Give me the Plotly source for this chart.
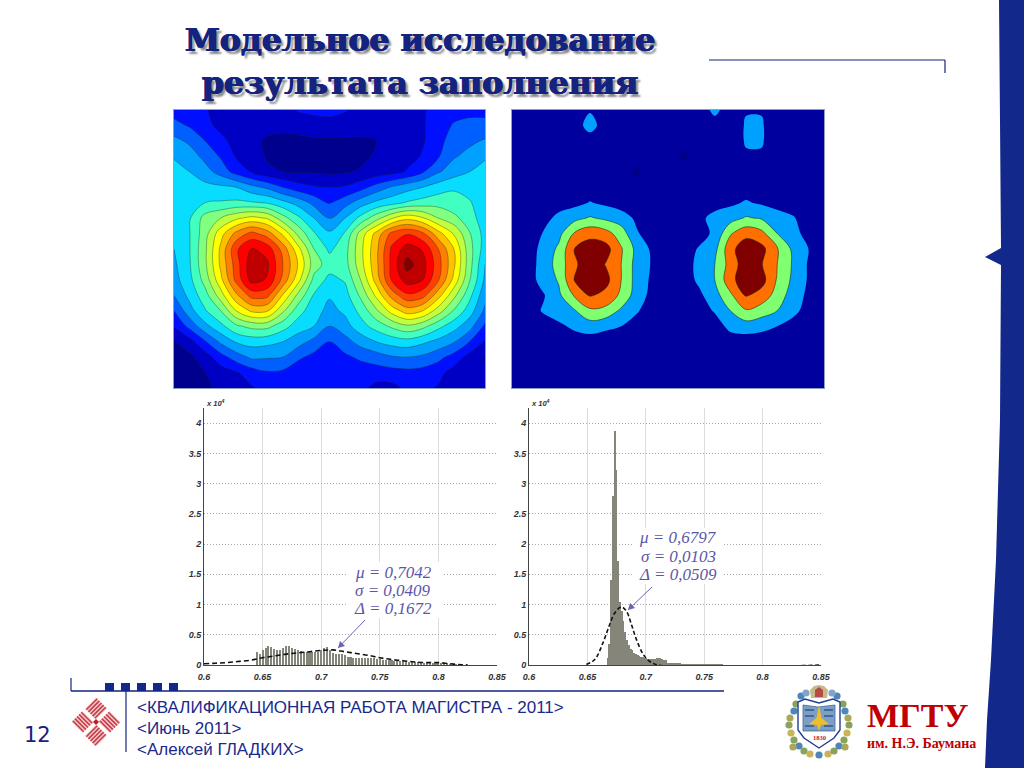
import plotly.graph_objects as go

# ---------- data ----------
left_map = [
 [2.6,2.5,2.1,1.6,1.5,1.5,1.5,1.6,2.1,2.3,2.4,2.1,1.7,1.6,1.6,1.7,1.9,2.4,2.6,2.7,2.7],
 [3.3,2.9,2.3,1.7,1.3,1.2,1.2,1.2,1.3,1.4,1.5,1.4,1.3,1.2,1.2,1.7,1.9,2.5,3.1,3.3,3.3],
 [4.3,3.8,3.0,2.3,1.6,1.2,0.9,0.8,0.8,0.9,0.9,0.9,0.9,1.0,1.2,1.5,1.9,2.6,3.6,3.8,4.1],
 [4.9,4.5,3.7,2.9,1.9,1.5,0.9,0.7,0.7,0.7,0.7,0.7,0.8,1.1,1.4,1.6,2.1,2.9,3.9,4.3,4.9],
 [5.4,5.0,4.4,3.6,2.6,1.9,1.2,1.0,0.9,0.9,0.8,0.9,1.1,1.4,1.6,2.1,2.9,3.9,4.5,5.0,5.3],
 [5.4,5.4,5.3,5.2,5.0,4.3,3.8,3.0,2.4,2.1,2.0,2.1,2.6,3.4,4.1,4.6,5.0,5.5,5.9,5.6,5.5],
 [5.5,5.6,6.0,6.1,6.2,6.1,5.9,5.3,4.6,3.7,2.9,3.6,4.5,5.2,5.6,6.1,6.4,6.6,6.3,6.1,5.4],
 [5.5,5.9,7.4,8.0,8.8,9.3,8.9,7.4,6.2,5.0,3.9,5.0,6.3,7.6,8.9,9.7,9.1,8.0,7.3,6.4,5.5],
 [5.4,5.95,7.6,9.6,11.3,12.3,11.5,9.8,7.7,6.1,5.2,6.1,8.4,10.3,12.3,12.9,12.2,10.4,8.9,7.1,5.6],
 [5.0,5.95,7.8,10.2,12.8,14.1,13.6,11.6,9.3,7.0,5.8,6.6,8.7,10.7,13.2,14.5,13.9,12.0,10.0,7.4,5.5],
 [4.8,5.9,7.8,10.2,12.5,14.7,14.2,12.0,9.9,7.5,6.5,6.6,8.6,10.7,13.3,15.4,14.4,12.4,10.2,7.4,5.0],
 [4.6,5.7,7.4,9.7,12.3,14.4,13.9,11.7,9.3,6.7,5.7,6.1,8.0,10.4,13.1,14.5,14.0,12.1,9.7,7.1,4.8],
 [4.0,5.3,6.6,8.5,10.8,12.4,12.3,9.9,7.7,5.9,5.1,5.6,7.2,9.2,11.4,12.8,12.4,10.4,8.3,6.3,4.3],
 [3.0,4.6,5.9,7.0,9.0,10.2,10.1,8.2,6.4,5.4,4.7,5.2,6.3,7.8,9.4,10.5,10.0,8.5,6.9,5.5,3.8],
 [2.1,3.3,4.7,5.7,6.8,7.3,7.3,6.4,5.5,5.0,4.0,4.6,5.6,6.4,7.2,7.8,7.3,6.3,5.4,4.4,2.8],
 [0.9,1.6,2.9,4.2,5.1,5.4,5.3,5.0,4.4,3.7,3.0,3.6,4.4,5.0,5.4,5.6,5.2,4.7,4.1,3.0,1.9],
 [0.7,0.8,1.5,2.6,3.5,4.2,4.1,4.0,3.2,2.7,2.5,2.8,3.2,3.5,3.9,4.0,3.8,3.3,2.6,1.6,0.9],
 [0.7,0.7,1.0,1.5,1.9,2.5,2.9,2.8,2.3,2.2,2.2,2.2,2.4,2.5,2.6,2.7,2.6,2.3,1.6,1.4,1.2],
 [0.8,0.8,0.9,1.1,1.4,1.9,2.3,2.4,2.3,2.3,2.3,2.3,2.3,1.7,1.7,2.2,2.2,1.9,1.5,1.4,1.5],
]

right_map = [
 [1.5,1.5,1.5,1.5,1.5,1.9,1.5,1.5,1.5,1.5,1.5,1.5,1.5,2.25,1.5,1.95,1.95,1.5,1.5,1.5,1.5],
 [1.5,1.5,1.5,1.5,1.5,2.4,1.5,1.5,1.5,1.5,1.5,1.5,1.5,1.6,1.5,2.08,2.08,1.5,1.5,1.5,1.5],
 [1.5,1.5,1.5,1.5,1.5,1.5,1.5,1.5,1.5,1.5,1.5,1.5,1.5,1.5,1.5,2.08,2.08,1.5,1.5,1.5,1.5],
 [1.5,1.5,1.5,1.5,1.5,1.5,1.5,1.5,1.5,1.5,1.5,0.8,1.5,1.5,1.5,1.9,1.9,1.5,1.5,1.5,1.5],
 [1.5,1.5,1.5,1.5,1.5,1.5,1.5,1.5,0.8,1.5,1.5,1.5,1.5,1.5,1.5,1.5,1.5,1.5,1.5,1.5,1.5],
 [1.5,1.5,1.5,1.5,1.5,1.5,1.5,1.5,1.5,1.5,1.5,1.5,1.5,1.5,1.5,1.5,1.5,1.5,1.5,1.5,1.5],
 [1.5,1.5,1.5,1.5,1.7,2.05,1.8,1.5,1.5,1.5,1.5,1.5,1.5,1.5,1.8,2.1,1.85,1.5,1.5,1.5,1.5],
 [1.5,1.5,1.6,2.3,2.7,3.1,2.8,2.5,1.8,1.5,1.5,1.5,1.7,2.4,2.6,3.1,2.9,2.6,2.1,1.5,1.5],
 [1.5,1.5,2.05,2.7,4.1,4.7,4.4,3.5,2.1,1.5,1.5,1.5,1.6,2.2,3.9,4.7,4.3,3.0,2.3,1.7,1.5],
 [1.5,1.5,2.3,3.2,5.0,5.5,5.4,4.1,2.7,1.8,1.5,1.5,2.1,2.7,4.7,5.6,5.3,4.1,2.8,2.0,1.5],
 [1.5,1.5,2.4,3.4,4.8,5.7,4.95,4.0,2.6,1.9,1.5,1.5,2.3,3.0,4.4,5.6,5.05,4.0,2.9,1.9,1.5],
 [1.5,1.5,2.4,3.1,5.05,5.7,5.35,4.0,2.6,1.8,1.5,1.5,2.2,3.0,4.7,5.6,5.4,3.9,2.8,1.9,1.5],
 [1.5,1.5,1.9,2.8,4.1,5.1,4.7,3.8,2.5,1.7,1.5,1.5,1.8,2.6,3.8,5.1,4.6,3.6,2.5,1.8,1.5],
 [1.5,1.5,2.1,2.5,2.9,3.8,3.7,2.8,2.1,1.5,1.5,1.5,1.5,2.1,3.0,3.9,3.5,3.0,2.3,1.6,1.5],
 [1.5,1.5,1.5,1.8,2.2,2.5,2.2,2.0,1.6,1.5,1.5,1.5,1.5,1.5,2.3,2.5,2.3,2.0,1.6,1.5,1.5],
 [1.5,1.5,1.5,1.5,1.5,1.5,1.5,1.5,1.5,1.5,1.5,1.5,1.5,1.5,1.5,1.5,1.5,1.5,1.5,1.5,1.5],
 [1.5,1.5,1.5,1.5,1.5,1.5,1.5,1.5,1.5,1.5,1.5,1.5,1.5,1.5,1.5,1.5,1.5,1.5,1.5,1.5,1.5],
 [1.5,1.5,1.5,1.5,1.5,1.5,1.5,1.5,1.5,1.5,1.5,1.5,1.5,1.5,1.5,1.5,1.5,1.5,1.5,1.5,1.5],
 [1.5,1.5,1.5,1.5,1.5,1.5,1.5,1.5,1.5,1.5,1.5,1.5,1.5,1.5,1.5,1.5,1.5,1.5,1.5,1.5,1.5],
]

left_band_colors = ["#00008f","#0000c4","#0010ff","#0060ff","#00a0ff","#08dcff","#40ffc0","#80ff80",
                    "#c0ff40","#ffff00","#ffc000","#ff8000","#ff4000","#ff0000","#c00000","#800000"]
right_band_colors = ["#000088","#00009f","#00a0ff","#80ff70","#ff7000","#800000"]

left_hist_start = 0.645
left_hist_step = 0.0025
left_hist = [.21,.19,.25,.28,.32,.30,.27,.24,.24,.28,.32,.32,.28,.26,.25,.23,.22,.21,.21,.21,.21,.21,
             .24,.28,.29,.24,.20,.18,.18,.19,.17,.14,.13,.12,.12,.12,.11,.11,.11,.11,.11,.10,.10,.09,
             .09,.09,.08,.07,.07,.06,.06,.06,.05,.05,.05,.05,.05,.04,.04,.04,.04,.04,.04,.04,.04,.02,
             .01,.01,.01,.01,.005]
left_fit_x = [.60,.61,.62,.63,.64,.65,.66,.67,.68,.69,.70,.71,.72,.73,.74,.75,.76,.77,.78,.79,.80,.81,.82,.825]
left_fit_y = [.02,.03,.04,.06,.08,.12,.15,.18,.20,.22,.24,.25,.22,.19,.16,.12,.09,.07,.05,.04,.04,.02,.005,0]

right_hist_start = 0.6675
right_hist_step = 0.0015
right_hist = [.12,.35,1.4,2.8,3.87,3.23,1.72,1.05,.9,.72,.55,.42,.33,.27,.24,.2,.18,.16,.15,.14,.13,.12,
              .11,.1,.1,.1,.1,.1,.11,.12,.11,.1,.09,.08,.02,.02,.02,.02,.02,.02,.02,.02,.015,.015,.015,
              .015,.015,.015,.015,.015,.015,.015,.015,.015,.015,.015,.015,.015,.015,.015,.015,.015,.015,
              .01,.01,.01]
right_fit_x = [.6491,.6563,.6634,.6691,.6734,.6791,.6834,.6877,.692,.6977,.702,.7106,.85]
right_fit_y = [.01,.09,.37,.67,.86,.96,.89,.67,.42,.18,.08,0,0]

x_ticks = [0.6,0.65,0.7,0.75,0.8,0.85]
x_tick_labels = ["0.6","0.65","0.7","0.75","0.8","0.85"]
y_ticks = [0,0.5,1,1.5,2,2.5,3,3.5,4]
y_tick_labels = ["0","0.5","1","1.5","2","2.5","3","3.5","4"]

left_stats = ["μ = 0,7042","σ = 0,0409","Δ = 0,1672"]
right_stats = ["μ = 0,6797","σ = 0,0103","Δ = 0,0509"]
title_lines = ["Модельное исследование","результата заполнения"]
footer_lines = ["&lt;КВАЛИФИКАЦИОННАЯ РАБОТА МАГИСТРА - 2011&gt;","&lt;Июнь 2011&gt;","&lt;Алексей ГЛАДКИХ&gt;"]

# ---------- helpers ----------
W, H = 1024, 768
NAVY = "#13237f"
def px(x): return x / W
def py(y): return 1 - y / H
def stepped(colors):
    n = len(colors); out = []
    for i, c in enumerate(colors):
        out += [[i / n, c], [(i + 1) / n, c]]
    return out

fig = go.Figure()

# ---------- contour maps ----------
fig.add_trace(go.Contour(z=left_map, xaxis="x", yaxis="y", colorscale=stepped(left_band_colors), zmin=0, zmax=16,
                         autocontour=False, contours=dict(start=1, end=15, size=1, coloring="fill"),
                         line=dict(color="rgba(20,40,30,0.6)", width=0.6, smoothing=1), showscale=False, hoverinfo="skip"))
fig.add_trace(go.Contour(z=right_map, xaxis="x2", yaxis="y2", colorscale=stepped(right_band_colors), zmin=0, zmax=6,
                         autocontour=False, contours=dict(start=1, end=5, size=1, coloring="fill"),
                         line=dict(width=0, smoothing=1), showscale=False, hoverinfo="skip"))
fig.add_trace(go.Contour(z=right_map, xaxis="x2", yaxis="y2", autocontour=False,
                         contours=dict(start=3, end=5, size=1, coloring="none"),
                         line=dict(color="rgba(20,40,20,0.8)", width=0.7, smoothing=1), showscale=False, hoverinfo="skip"))

# ---------- histograms ----------
BAR = "#85857a"
fig.add_trace(go.Bar(x0=left_hist_start, dx=left_hist_step, y=left_hist, xaxis="x3", yaxis="y3",
                     marker=dict(color=BAR, line_width=0), width=left_hist_step*0.7, hoverinfo="skip"))
fig.add_trace(go.Scatter(x=left_fit_x, y=left_fit_y, xaxis="x3", yaxis="y3", mode="lines",
                         line=dict(color="#111", width=1.6, dash="5px,3px", shape="spline"), hoverinfo="skip"))
fig.add_trace(go.Bar(x0=right_hist_start, dx=right_hist_step, y=right_hist, xaxis="x4", yaxis="y4",
                     marker=dict(color=BAR, line_width=0), width=right_hist_step*0.7, hoverinfo="skip"))
fig.add_trace(go.Scatter(x=right_fit_x, y=right_fit_y, xaxis="x4", yaxis="y4", mode="lines",
                         line=dict(color="#111", width=1.6, dash="4px,2.5px", shape="spline"), hoverinfo="skip"))

hidden = dict(showticklabels=False, ticks="", showgrid=False, zeroline=False, mirror=True, showline=True,
              linecolor="#8ea0c0", linewidth=1)
tickfont = dict(family="Liberation Sans", size=9, color="#333", style="italic", weight="bold")
def x_axis(dom, anchor):
    return dict(domain=[px(dom[0]), px(dom[1])], range=[0.6, 0.85], anchor=anchor, tickmode="array", tickvals=x_ticks,
                ticktext=x_tick_labels, showgrid=True, gridcolor="#dcdcdc", gridwidth=1, zeroline=False,
                showline=True, linecolor="#444", linewidth=1, ticks="", tickfont=tickfont, ticklabelstandoff=3)
def y_axis(anchor):
    return dict(domain=[py(665), py(408)], range=[0, 4.25], anchor=anchor, tickmode="array", tickvals=y_ticks,
                ticktext=y_tick_labels, showgrid=True, gridcolor="#a8a8a8", griddash="1px,2px", gridwidth=1, zeroline=False,
                showline=True, linecolor="#444", linewidth=1, ticks="", tickfont=tickfont)

fig.update_layout(
    width=W, height=H, margin=dict(l=0, r=0, t=0, b=0, pad=0, autoexpand=False), paper_bgcolor="white", plot_bgcolor="white",
    showlegend=False, bargap=0,
    xaxis=dict(domain=[px(174), px(485)], range=[0, 20], anchor="y", **hidden),
    yaxis=dict(domain=[py(388), py(110)], range=[18, 0], anchor="x", **hidden),
    xaxis2=dict(domain=[px(512), px(824)], range=[0, 20], anchor="y2", **hidden),
    yaxis2=dict(domain=[py(388), py(110)], range=[18, 0], anchor="x2", **hidden),
    xaxis3=x_axis((204, 497), "y3"), yaxis3=y_axis("x3"),
    xaxis4=x_axis((529, 821), "y4"), yaxis4=y_axis("x4"),
)

# ---------- slide furniture ----------
shapes = []
def path(d, fill=None, line=None, lw=0, layer="above"):
    s = dict(type="path", path=d, xref="paper", yref="paper", layer=layer,
             line=dict(width=lw, color=line or "rgba(0,0,0,0)"))
    if fill: s["fillcolor"] = fill
    shapes.append(s)
def seg(x0, y0, x1, y1, color, w=1):
    shapes.append(dict(type="line", xref="paper", yref="paper", x0=px(x0), y0=py(y0), x1=px(x1), y1=py(y1),
                       line=dict(color=color, width=w), layer="above"))
def rect(x0, y0, x1, y1, fill):
    shapes.append(dict(type="rect", xref="paper", yref="paper", x0=px(x0), y0=py(y0), x1=px(x1), y1=py(y1),
                       fillcolor=fill, line=dict(width=0), layer="above"))
def poly(pts, fill, line=None, lw=0):
    d = "M %.5f,%.5f " % (px(pts[0][0]), py(pts[0][1]))
    d += " ".join("L %.5f,%.5f" % (px(x), py(y)) for x, y in pts[1:]) + " Z"
    path(d, fill, line, lw)
def dot(x, y, r, c):
    shapes.append(dict(type="circle", xref="paper", yref="paper", x0=px(x-r), x1=px(x+r), y0=py(y+r), y1=py(y-r),
                       fillcolor=c, line=dict(width=0), layer="above"))

# right band with notch
poly([(999,0),(1024,0),(1024,768),(985,768),(987,720),(991,660),(996,560),(1000,420),(1001,265),(985,257),
      (1001,248),(1000,120)], "#12288a")
# top rule
seg(709,60,945,60,NAVY,1.2); seg(945,60,945,73,NAVY,1.2)
# bottom rule
seg(71,691,724,691,NAVY,1.4); seg(71,678,71,691,NAVY,1.2); seg(126,691,126,752,NAVY,1.2)
for x in (105,121,137,153,169):
    rect(x,683,x+9,691,"#12288a")
# white patches under the statistics
rect(346,562,442,618,"white"); rect(634,528,724,584,"white")
# callout arrows
ARROW = "#6a62b8"
seg(365,620,338,648,ARROW,1); poly([(338,648),(340,641),(345,646)],ARROW)
seg(652,587,628,610,ARROW,1); poly([(628,610),(630,603),(635,608)],ARROW)
# hatched logo: four rotated squares round a small red centre
LOGO = "#c6404c"
lobes = ((96,708.5,1),(109.5,722,-1),(96,735.5,1),(82.5,722,-1))
for lx, ly, sgn in lobes:
    poly([(lx-11,ly),(lx,ly-11),(lx+11,ly),(lx,ly+11)], "#f6d2d3")
    for t in (-6,-3,0,3,6):
        mx = lx + t*0.7071
        my = ly + sgn*t*0.7071
        seg(mx-5.5, my+sgn*5.5, mx+5.5, my-sgn*5.5, LOGO, 1.7)
poly([(93,722),(96,719),(99,722),(96,725)], "#c01c2c")
# emblem: wreath, shield, crown, star
leaves = [(790,718,"#a9a75a"),(789,725,"#8aa35c"),(791,733,"#c9b45c"),(794,711,"#4f86b8"),(796,704,"#8aa35c"),
          (801,696,"#4f86b8"),(806,693,"#7fa6c8"),(794,740,"#8aa35c"),(799,746,"#4f86b8"),(804,751,"#8aa35c"),
          (810,754,"#c9b45c"),(819,755,"#4f86b8"),(828,754,"#c9b45c"),(834,751,"#8aa35c"),(839,746,"#4f86b8"),
          (844,740,"#8aa35c"),(847,733,"#c9b45c"),(849,725,"#8aa35c"),(848,718,"#a9a75a"),(845,711,"#4f86b8"),
          (843,704,"#8aa35c"),(837,696,"#4f86b8"),(832,693,"#7fa6c8"),(793,747,"#a9a75a"),(845,747,"#a9a75a")]
for x, y, c in leaves:
    dot(x, y, 3.6, c)
poly([(798,702),(805,699),(819,703),(833,699),(840,702),(840,730),(834,738),(819,748),(804,738),(798,730)],
     "white", "#1f3f8f", 1.4)
poly([(803,705),(818,707),(835,705),(835,731),(803,731)], "#7e9fc4", "#2c5c98", 0.7)
for yy in (710,716,726):
    seg(805,yy,814,yy,"#27528c",1.4); seg(824,yy,833,yy,"#27528c",1.4)
poly([(819,705),(821.5,718),(829,724),(821,725),(819,731),(817,725),(809,724),(816.5,718)], "#eebf2a")
poly([(810,690),(814,686),(819,685),(824,686),(828,690),(827,698),(811,698)], "#c9b98a")
poly([(815,690),(819,687),(823,690),(823,697),(815,697)], "#b64a45")
fig.update_layout(shapes=shapes)

# ---------- text ----------
ann = []
def text(x, y, t, size, color, family, anchor="left", **font_kw):
    ann.append(dict(x=px(x), y=py(y), xref="paper", yref="paper", text=t, showarrow=False, xanchor=anchor,
                    yanchor="middle", font=dict(family=family, size=size, color=color, **font_kw)))
TITLE_SHADOW = "0.7px 0 0 #13237f, -0.7px 0 0 #13237f, 3px 3px 2px #8a8a8a"
for y, t in zip((39, 82), title_lines):
    text(420, y, t, 31.5, NAVY, "DejaVu Serif", "center", weight="bold", shadow=TITLE_SHADOW)
for y, t in zip((707, 728, 749), footer_lines):
    text(135, y, t, 17, "#1a2a8a", "Liberation Sans")
text(37, 735, "12", 21, NAVY, "DejaVu Sans", "center")
text(865, 715, "МГТУ", 34, "#c00000", "Liberation Serif", weight="bold")
text(865, 743, "им. Н.Э. Баумана", 14, "#c00000", "Liberation Serif", weight="bold")
text(819, 737, "1830", 6.5, "#c02020", "Liberation Serif", "center", weight="bold")
for x in (204, 529):
    text(x, 403, "x 10<sup>4</sup>", 7.5, "#333", "Liberation Sans", "left", style="italic", weight="bold")
for y, t in zip((572, 590, 608), left_stats):
    text(393, y, t, 17, "#5a58a6", "Liberation Serif", "center", style="italic")
for y, t in zip((537, 556, 574), right_stats):
    text(678, y, t, 17, "#5a58a6", "Liberation Serif", "center", style="italic")
fig.update_layout(annotations=ann)

fig.write_html("out.html", post_script="document.body.style.margin='0';document.documentElement.style.overflow='hidden';",
               config={"displayModeBar": False})
